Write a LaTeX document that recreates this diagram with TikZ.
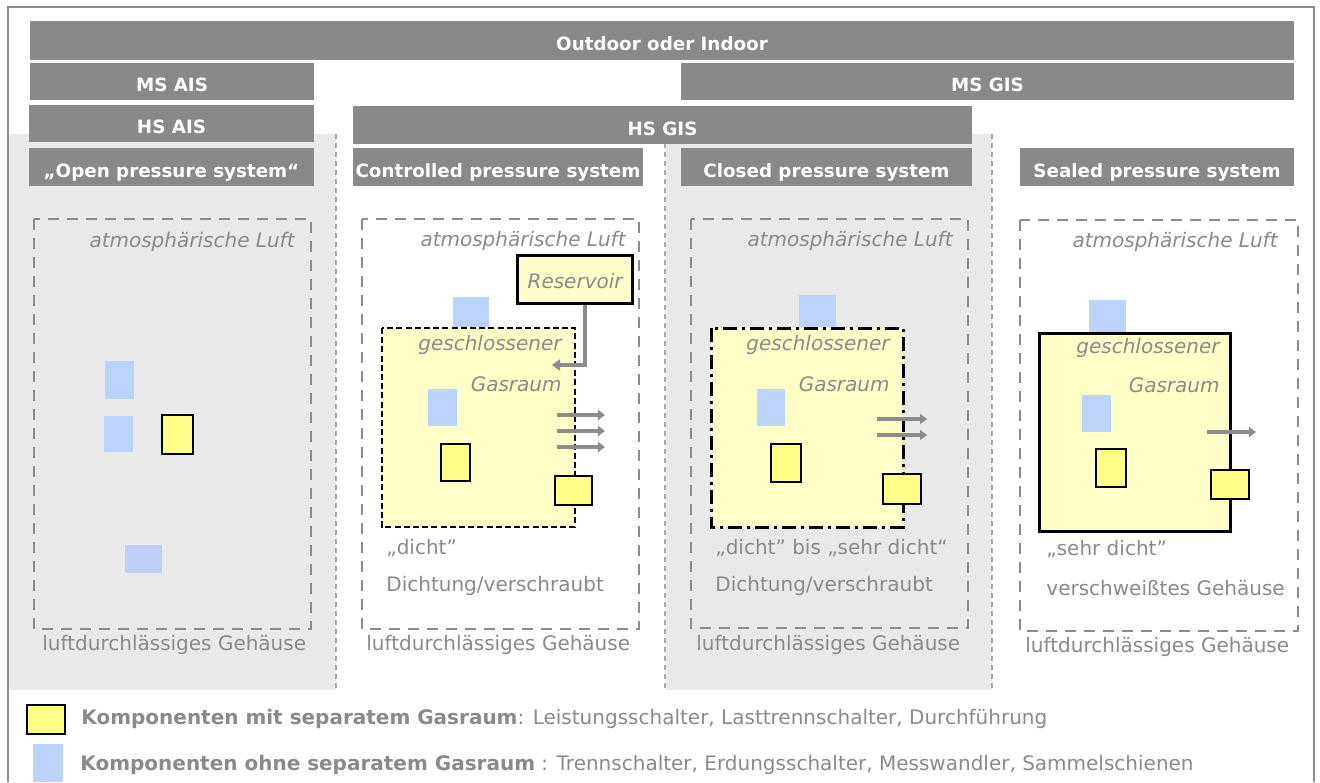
\documentclass[tikz,border=0pt]{standalone}
\usepackage{fontspec}
\setmainfont{DejaVu Sans}
\usetikzlibrary{arrows.meta}
\definecolor{barc}{HTML}{898989}
\definecolor{panelc}{HTML}{E9E9E9}
\definecolor{txtc}{HTML}{8A8A8A}
\definecolor{dashc}{HTML}{8C8C8C}
\definecolor{divc}{HTML}{A8A8A8}
\definecolor{yelc}{HTML}{FFFF88}
\definecolor{gasc}{HTML}{FFFFC8}
\definecolor{resc}{HTML}{FFFFCC}
\definecolor{bluc}{HTML}{BCD4FC}
\definecolor{blu2c}{HTML}{BCCFF5}
\begin{document}
\begin{tikzpicture}[x=0.5pt,y=-0.5pt,
  bar/.style 2 args={fill=barc,draw=none,inner sep=0pt,outer sep=0pt,
    minimum width=#1*0.5pt,minimum height=#2*0.5pt,text=white,
    text height=10.2pt,text depth=0pt,
    font=\fontsize{9.15pt}{10pt}\selectfont\bfseries},
  panel/.style={fill=panelc,draw=none},
  divider/.style={draw=divc,line width=0.6pt,dash pattern=on 2.5pt off 2pt},
  housing/.style={draw=dashc,line width=1.3pt,dash pattern=on 5.5pt off 4pt},
  frame/.style={draw=dashc,line width=1pt},
  txt/.style={text=txtc,inner sep=0pt,yshift=-1pt,font=\fontsize{10pt}{12pt}\selectfont},
  itxt/.style={text=txtc,inner sep=0pt,yshift=-1pt,font=\fontsize{10pt}{12pt}\selectfont\itshape},
  blue/.style={fill=bluc,draw=none},
  yellow/.style={fill=yelc,draw=black,line width=0.8pt},
  gasdashed/.style={fill=gasc,draw=black,line width=1.4pt,dash pattern=on 3pt off 1.6pt},
  gasdashdot/.style={fill=gasc,draw=black,line width=1.5pt,dash pattern=on 7pt off 2.5pt on 1.5pt off 2.5pt},
  gassolid/.style={fill=gasc,draw=black,line width=1.5pt},
  pipe/.style={draw=dashc,line width=2pt,-{Triangle[length=4pt,width=5.5pt]}},
  leak/.style={draw=dashc,line width=1.8pt,-{Triangle[length=3.5pt,width=5pt]}}
]
\useasboundingbox (0,0) rectangle (1320,782);
\fill[white] (0,0) rectangle (1320,782);
% grey panels and dividers
\path[panel] (9,134) rectangle (336,690);
\path[panel] (665,134) rectangle (992,690);
\draw[divider] (336,134) -- (336,690);
\draw[divider] (665,134) -- (665,690);
\draw[divider] (992,134) -- (992,690);
% frame
\draw[frame] (8,782) -- (8,7) -- (1314,7) -- (1314,782);
% header bars
\node[bar={1264}{39}] (outdoor) at (662,40.5) {Outdoor oder Indoor};
\node[bar={284}{37}] (msais) at (172,81.5) {MS AIS};
\node[bar={613}{37}] (msgis) at (987.5,81.5) {MS GIS};
\node[bar={285}{37}] (hsais) at (171.5,123.5) {HS AIS};
\node[bar={619}{38}] (hsgis) at (662.5,125) {HS GIS};
\node[bar={285}{38}] (open) at (171.5,167) {„Open pressure system“};
\node[bar={290}{38}] (controlled) at (498,167) {Controlled pressure system};
\node[bar={291}{38}] (closed) at (826.5,167) {Closed pressure system};
\node[bar={274}{38}] (sealed) at (1157,167) {Sealed pressure system};
% housings
\draw[housing] (34,219) rectangle (311,629);
\draw[housing] (362,219) rectangle (639,629);
\draw[housing] (691,219) rectangle (968,628);
\draw[housing] (1020,220) rectangle (1298,631);
\node[itxt,anchor=east] (air1) at (295,240) {atmosphärische Luft};
\node[itxt,anchor=east] (air2) at (626,239) {atmosphärische Luft};
\node[itxt,anchor=east] (air3) at (953,239) {atmosphärische Luft};
\node[itxt,anchor=east] (air4) at (1278,240) {atmosphärische Luft};
\node[txt,anchor=west] (hous1) at (42,643) {luftdurchlässiges Gehäuse};
\node[txt,anchor=west] (hous2) at (366,643) {luftdurchlässiges Gehäuse};
\node[txt,anchor=west] (hous3) at (696,643) {luftdurchlässiges Gehäuse};
\node[txt,anchor=west] (hous4) at (1025,645) {luftdurchlässiges Gehäuse};
% column 1
\path[blue] (105,361) rectangle (134,399);
\path[blue] (104,416) rectangle (133,452);
\path[yellow] (162,415) rectangle (193,454);
\path[fill=blu2c] (125,545) rectangle (162,573);
% column 2
\path[blue] (453,297) rectangle (489,327);
\path[gasdashed] (382,328) rectangle (575,527);
\node[itxt,anchor=east] (gs2a) at (562,343) {geschlossener};
\node[itxt,anchor=east] (gs2b) at (562,382) {Gasraum};
\node[fill=resc,draw=black,line width=1.5pt,minimum width=57.5pt,minimum height=24pt,inner sep=0pt] (res) at (574.5,279) {};
\node[itxt,anchor=east] (restxt) at (623,279) {Reservoir};
\coordinate (c2bend) at (585,365);
\coordinate (c2in) at (552,365);
\draw[pipe] (res.south -| c2bend) |- (c2in);
\path[blue] (428,389) rectangle (457,426);
\path[yellow] (441,444) rectangle (470,481);
\path[yellow] (555,476) rectangle (592,505);
\coordinate (l2as) at (557,415); \coordinate (l2ae) at (605,415);
\coordinate (l2bs) at (557,431); \coordinate (l2be) at (605,431);
\coordinate (l2cs) at (557,447); \coordinate (l2ce) at (605,447);
\draw[leak] (l2as) -- (l2ae);
\draw[leak] (l2bs) -- (l2be);
\draw[leak] (l2cs) -- (l2ce);
\node[txt,anchor=west] (d2) at (386,546) {„dicht”};
\node[txt,anchor=west] (v2) at (386,584) {Dichtung/verschraubt};
% column 3
\path[blue] (799,295) rectangle (836,327);
\path[gasdashdot] (711,328) rectangle (903,527);
\node[itxt,anchor=east] (gs3a) at (890,343) {geschlossener};
\node[itxt,anchor=east] (gs3b) at (890,382) {Gasraum};
\path[blue] (757,389) rectangle (785,426);
\path[yellow] (771,444) rectangle (801,482);
\path[yellow] (883,474) rectangle (921,504);
\coordinate (l3as) at (877,419); \coordinate (l3ae) at (927,419);
\coordinate (l3bs) at (877,435); \coordinate (l3be) at (927,435);
\draw[leak] (l3as) -- (l3ae);
\draw[leak] (l3bs) -- (l3be);
\node[txt,anchor=west] (d3) at (715,546) {„dicht” bis „sehr dicht“};
\node[txt,anchor=west] (v3) at (715,584) {Dichtung/verschraubt};
% column 4
\path[blue] (1089,300) rectangle (1126,332);
\path[gassolid] (1039,333) rectangle (1230,531);
\node[itxt,anchor=east] (gs4a) at (1220,346) {geschlossener};
\node[itxt,anchor=east] (gs4b) at (1220,383) {Gasraum};
\path[blue] (1082,395) rectangle (1111,432);
\path[yellow] (1096,449) rectangle (1126,487);
\path[yellow] (1211,470) rectangle (1249,499);
\coordinate (l4s) at (1207,432); \coordinate (l4e) at (1256,432);
\draw[leak] (l4s) -- (l4e);
\node[txt,anchor=west] (d4) at (1046,547) {„sehr dicht”};
\node[txt,anchor=west] (v4) at (1046,586) {verschweißtes Gehäuse};
% legend
\path[yellow] (27,705) rectangle (65,734);
\path[blue] (33,744) rectangle (63,782);
\node[txt,anchor=west] (leg1) at (81,717) {{\bfseries Komponenten mit separatem Gasraum}: Leistungsschalter, Lasttrennschalter, Durchführung};
\node[txt,anchor=west] (leg2) at (80,763) {{\bfseries Komponenten ohne separatem Gasraum} : Trennschalter, Erdungsschalter, Messwandler, Sammelschienen};
\end{tikzpicture}
\end{document}
